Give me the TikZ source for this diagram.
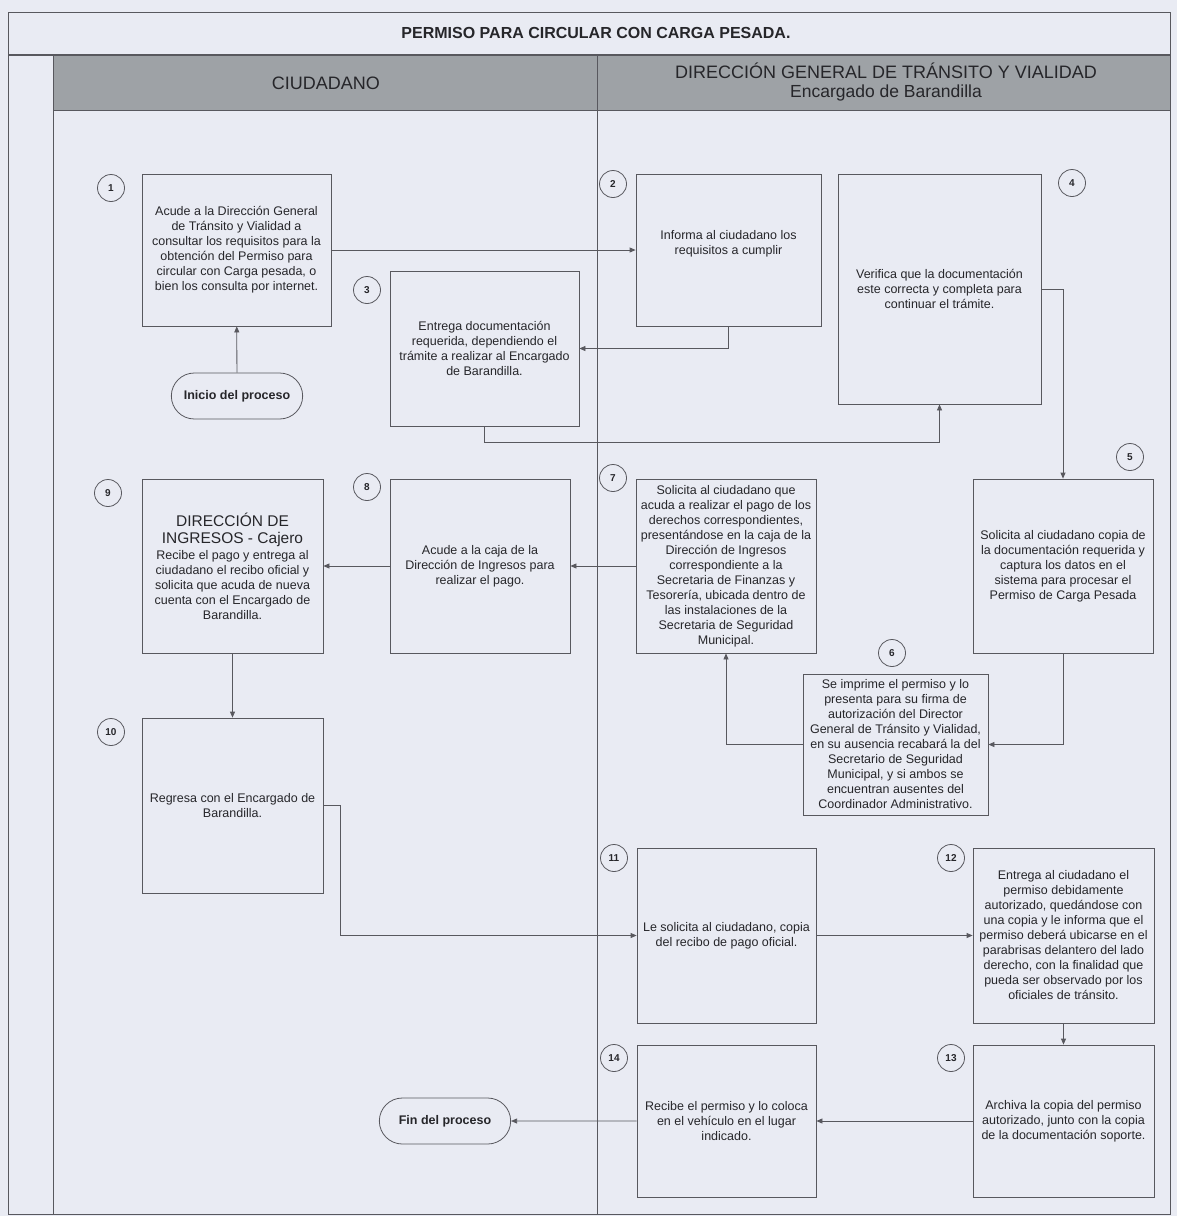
\documentclass[tikz,border=0pt]{standalone}
\usepackage{fontspec}
\setmainfont{Liberation Sans}
\usetikzlibrary{shapes.misc, arrows.meta, positioning, calc}

\definecolor{fondo}{RGB}{233,235,243}
\definecolor{banda}{RGB}{158,162,166}
\definecolor{linea}{RGB}{88,88,94}
\definecolor{texto}{RGB}{38,38,42}

\newcommand{\grande}{\fontsize{15.5}{17.5}\selectfont}

\begin{document}
\begin{tikzpicture}[
    x=1pt, y=-1pt,
    paso/.style={rectangle, draw=linea, fill=fondo, line width=0.8pt, inner sep=2pt, align=center, text=texto, font=\fontsize{12.5}{15}\selectfont},
    caja/.style 2 args={paso, minimum width=#1pt, minimum height=#2pt},
    term/.style={rounded rectangle, draw=linea, fill=fondo, line width=0.8pt, minimum width=138pt, minimum height=46pt, text=texto, font=\bfseries\fontsize{12.5}{15}\selectfont},
    num/.style={circle, draw=linea, fill=fondo, line width=0.8pt, minimum size=27pt, inner sep=0pt, text=texto, font=\bfseries\fontsize{10}{10}\selectfont},
    cabecera/.style={align=center, text=texto, font=\fontsize{18}{19}\selectfont},
    flecha/.style={-{Triangle[length=6pt, width=5pt]}, draw=linea, line width=0.8pt},
    marco/.style={draw=linea, line width=0.9pt},
]
    \useasboundingbox (0,0) rectangle (1177,1216);
    \fill[fondo] (0,0) rectangle (1177,1216);

    % Marco y carriles
    \fill[banda] (53,55) rectangle (1170,110);
    \draw[marco] (8,12) rectangle (1170,1214);
    \draw[marco, line width=1.4pt] (8,55) -- (1170,55);
    \draw[marco] (53,110) -- (1170,110);
    \draw[marco] (53,55) -- (53,1214);
    \draw[marco] (597,55) -- (597,1214);

    % Encabezados
    \node[font=\bfseries\fontsize{16}{16}\selectfont, text=texto] (titulo) at (596,33) {PERMISO PARA CIRCULAR CON CARGA PESADA.};
    \node[cabecera] (ciudadano) at (326,83) {CIUDADANO};
    \node[cabecera] (transito) at (886,82) {DIRECCIÓN GENERAL DE TRÁNSITO Y VIALIDAD\\\fontsize{17.5}{19}\selectfont Encargado de Barandilla};

    % Inicio y fin
    \node[term] (inicio) at (237,396) {Inicio del proceso};
    \node[term] (fin) at (445,1121) {Fin del proceso};

    % Pasos
    \node[caja={189}{152}] (b1) at (236.5,250) {Acude a la Dirección General\\de Tránsito y Vialidad a\\consultar los requisitos para la\\obtención del Permiso para\\circular con Carga pesada, o\\bien los consulta por internet.};
    \node[caja={185}{152}] (b2) at (728.5,250) {Informa al ciudadano los\\requisitos a cumplir\\~};
    \node[caja={189}{155}] (b3) at (484.5,348.5) {Entrega documentación\\requerida, dependiendo el\\trámite a realizar al Encargado\\de Barandilla.};
    \node[caja={203}{230}] (b4) at (939.5,289) {Verifica que la documentación\\este correcta y completa para\\continuar el trámite.};
    \node[caja={180}{174}] (b5) at (1063,566) {Solicita al ciudadano copia de\\la documentación requerida y\\captura los datos en el\\sistema para procesar el\\Permiso de Carga Pesada};
    \node[caja={185}{141}] (b6) at (895.5,744.5) {Se imprime el permiso y lo\\presenta para su firma de\\autorización del Director\\General de Tránsito y Vialidad,\\en su ausencia recabará la del\\Secretario de Seguridad\\Municipal, y si ambos se\\encuentran ausentes del\\Coordinador Administrativo.};
    \node[caja={180}{174}] (b7) at (726,566) {Solicita al ciudadano que\\acuda a realizar el pago de los\\derechos correspondientes,\\presentándose en la caja de la\\Dirección de Ingresos\\correspondiente a la\\Secretaria de Finanzas y\\Tesorería, ubicada dentro de\\las instalaciones de la\\Secretaria de Seguridad\\Municipal.};
    \node[caja={180}{174}] (b8) at (480,566) {Acude a la caja de la\\Dirección de Ingresos para\\realizar el pago.};
    \node[caja={181}{174}] (b9) at (232.5,566) {\grande DIRECCIÓN DE\\[2pt]\grande INGRESOS - Cajero\\[1pt]Recibe el pago y entrega al\\ciudadano el recibo oficial y\\solicita que acuda de nueva\\cuenta con el Encargado de\\Barandilla.};
    \node[caja={181}{175}] (b10) at (232.5,805.5) {Regresa con el Encargado de\\Barandilla.};
    \node[caja={179}{175}] (b11) at (726.5,935.5) {Le solicita al ciudadano, copia\\del recibo de pago oficial.};
    \node[caja={181}{175}] (b12) at (1063.5,935.5) {Entrega al ciudadano el\\permiso debidamente\\autorizado, quedándose con\\una copia y le informa que el\\permiso deberá ubicarse en el\\parabrisas delantero del lado\\derecho, con la finalidad que\\pueda ser observado por los\\oficiales de tránsito.};
    \node[caja={181}{152}] (b13) at (1063.5,1121) {Archiva la copia del permiso\\autorizado, junto con la copia\\de la documentación soporte.};
    \node[caja={179}{152}] (b14) at (726.5,1121) {Recibe el permiso y lo coloca\\en el vehículo en el lugar\\indicado.};

    % Numeros
    \node[num] (n1) at (111,188) {1};
    \node[num] (n2) at (613,184) {2};
    \node[num] (n3) at (367,290) {3};
    \node[num] (n4) at (1072,183) {4};
    \node[num] (n5) at (1130,457) {5};
    \node[num] (n6) at (892,653) {6};
    \node[num] (n7) at (613,478) {7};
    \node[num] (n8) at (367,487) {8};
    \node[num] (n9) at (108,493) {9};
    \node[num] (n10) at (111,732) {10};
    \node[num] (n11) at (614,858) {11};
    \node[num] (n12) at (951,858) {12};
    \node[num] (n13) at (951,1058) {13};
    \node[num] (n14) at (614,1058) {14};

    % Flechas
    \draw[flecha] (inicio) -- (b1);
    \draw[flecha] (b1) -- (b2);
    \draw[flecha] (b2.south) |- (b3.east);
    \draw[flecha] (b3.south) -- ++(0,16) -| (b4.south);
    \draw[flecha] (b4.east) -| (b5.north);
    \draw[flecha] (b5.south) |- (b6.east);
    \draw[flecha] (b6.west) -| (b7.south);
    \draw[flecha] (b7) -- (b8);
    \draw[flecha] (b8) -- (b9);
    \draw[flecha] (b9) -- (b10);
    \draw[flecha] (b10.east) -- ++(17,0) |- (b11.west);
    \draw[flecha] (b11) -- (b12);
    \draw[flecha] (b12) -- (b13);
    \draw[flecha] (b13) -- (b14);
    \draw[flecha] (b14) -- (fin);
\end{tikzpicture}
\end{document}
